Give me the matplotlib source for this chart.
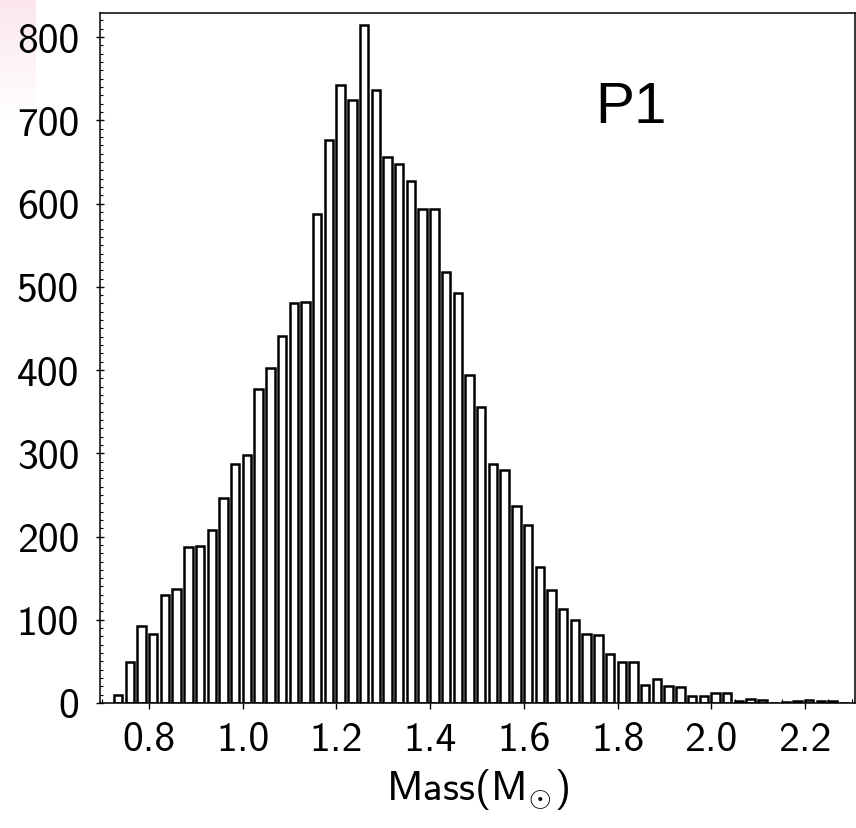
import numpy as np
import matplotlib
matplotlib.use("Agg")
import matplotlib.pyplot as plt
from matplotlib.ticker import MultipleLocator

# bin left edges (width 0.025) and counts
bin_start = 0.725
bin_width = 0.025
counts = [10, 49, 92, 83, 130, 137, 187, 189, 208, 246,
          287, 298, 377, 402, 441, 480, 482, 587, 676, 742,
          725, 814, 737, 656, 647, 627, 594, 593, 518, 492,
          394, 356, 287, 280, 237, 214, 163, 136, 113, 100,
          83, 82, 59, 49, 49, 22, 29, 20, 19, 9,
          9, 12, 12, 3, 5, 4, 0, 1, 3, 4,
          3, 3, 0]
edges = bin_start + bin_width * np.arange(len(counts))

x_ticks = [0.8, 1.0, 1.2, 1.4, 1.6, 1.8, 2.0, 2.2]
y_ticks = [0, 100, 200, 300, 400, 500, 600, 700, 800]

plt.rcParams['mathtext.fontset'] = 'cm'

fig = plt.figure(figsize=(8.56, 8.29), dpi=100)

# faint pink patch in the top-left corner
bg = fig.add_axes([0, 1 - 115 / 829, 36 / 856, 115 / 829], zorder=0)
grad = np.ones((100, 1, 4))
grad[:, 0, 0] = 0.98
grad[:, 0, 1] = 0.84
grad[:, 0, 2] = 0.88
grad[:, 0, 3] = np.linspace(0.6, 0.05, 100)
bg.imshow(grad, aspect='auto', extent=[0, 1, 0, 1])
bg.axis('off')

ax = fig.add_axes([100 / 856, 125 / 829, 755 / 856, 690 / 829], zorder=1)
ax.patch.set_alpha(0)

ax.bar(edges, counts, width=0.018, align='edge', facecolor='white',
       edgecolor='black', linewidth=1.8)

ax.set_xlim(0.6954, 2.3067)
ax.set_ylim(0, 829)

ax.set_xticks(x_ticks)
ax.set_xticklabels([f'{t:.1f}' for t in x_ticks])
ax.set_yticks(y_ticks)
ax.xaxis.set_minor_locator(MultipleLocator(0.05))
ax.yaxis.set_minor_locator(MultipleLocator(10))

ax.tick_params(axis='x', which='major', direction='out', length=4, width=1,
               pad=9, labelsize=30)
ax.tick_params(axis='x', which='minor', direction='in', length=3, width=0.8)
ax.tick_params(axis='y', which='major', direction='inout', length=6, width=1,
               pad=12, labelsize=30)
ax.tick_params(axis='y', which='minor', direction='in', length=2.5, width=0.8)
for lab in ax.get_xticklabels() + ax.get_yticklabels():
    lab.set_fontfamily('cmss10')

for sp in ax.spines.values():
    sp.set_linewidth(1.1)

ax.set_xlabel(r'Mass(M$_{\odot}$)', fontsize=30, fontfamily='cmss10',
              labelpad=6)

ax.text(1.752, 698, 'P1', fontsize=42, fontfamily='Liberation Sans',
        ha='left', va='baseline')

fig.savefig('out.png', dpi=100)
